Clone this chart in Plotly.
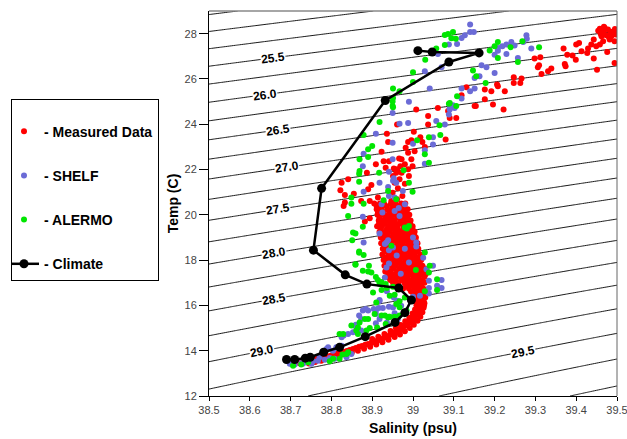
import numpy as np
import plotly.graph_objects as go

# ---------------- data ----------------
# Climate profile
climate_sal = [38.69, 38.71, 38.736, 38.748, 38.781, 38.82, 38.883, 38.956, 38.98, 38.996,
               38.965, 38.887, 38.834, 38.756, 38.776, 38.932, 39.088, 39.162, 39.047, 39.012]
climate_temp = [13.61, 13.61, 13.67, 13.71, 13.93, 14.15, 14.62, 15.25, 15.68, 16.24,
                16.77, 16.94, 17.35, 18.44, 21.17, 25.05, 26.75, 27.15, 27.19, 27.25]

# Measured data: scattered points (salinity, temperature)
measured_scatter = [
    (39.458, 28.22), (39.47, 28.25), (39.454, 28.13), (39.466, 28.10), (39.478, 28.18), (39.49, 28.10),
    (39.497, 27.96), (39.486, 27.88), (39.474, 27.93), (39.462, 27.88), (39.482, 27.74), (39.494, 27.66),
    (39.466, 27.66), (39.443, 27.74), (39.458, 27.52), (39.449, 27.44), (39.476, 27.19), (39.437, 27.52),
    (39.429, 27.34), (39.427, 27.15), (39.413, 27.22), (39.40, 27.52), (39.407, 27.59), (39.391, 27.04),
    (39.378, 27.07), (39.399, 26.85), (39.369, 27.34), (39.372, 26.66), (39.374, 26.56), (39.443, 26.90),
    (39.494, 26.70), (39.451, 26.41), (39.298, 26.90), (39.312, 26.96), (39.309, 26.60), (39.306, 26.52),
    (39.315, 26.22), (39.331, 26.34), (39.339, 26.46), (39.247, 26.07), (39.266, 26.02), (39.247, 25.82),
    (39.263, 25.82), (39.206, 25.75), (39.192, 25.46), (39.225, 25.46), (39.196, 24.87), (39.222, 24.65),
    (39.485, 28.05), (39.495, 28.20), (39.46, 28.00), (39.48, 27.85), (39.468, 28.30), (39.499, 28.02),
    (39.008, 24.65), (39.061, 24.72), (39.131, 25.63), (39.119, 25.28), (39.176, 25.53), (39.176, 25.10),
    (39.154, 24.80), (39.208, 25.68),
    (39.037, 24.36), (39.037, 23.99), (38.961, 23.99), (39.002, 23.67), (39.018, 23.43), (38.996, 23.29),
    (39.023, 23.22), (38.988, 23.22), (39.029, 22.99), (39.08, 23.33), (38.982, 22.96), (38.988, 22.74),
    (39.004, 22.81), (38.972, 22.45), (38.996, 22.45), (38.999, 22.15), (38.98, 22.23), (38.969, 22.15),
    (38.961, 22.01), (38.972, 21.86), (38.988, 22.01), (38.99, 21.71), (38.951, 21.71), (38.967, 21.57),
    (38.955, 21.42), (38.98, 21.37), (38.963, 21.17), (38.95, 20.98), (38.974, 20.83), (38.961, 20.69),
    (39.106, 24.28), (39.09, 24.28), (39.086, 24.58), (39.151, 24.80),
    (38.936, 23.58), (38.939, 23.22), (38.923, 22.78), (38.941, 22.37), (38.928, 22.37), (38.966, 22.49),
    (38.909, 22.23), (38.933, 22.08), (38.887, 21.86), (38.953, 22.05), (38.959, 21.86), (38.841, 21.57),
    (38.825, 21.42), (38.822, 21.08), (38.833, 20.88), (38.89, 21.13), (38.898, 21.32), (38.855, 20.93),
    (38.914, 20.76), (38.833, 20.54), (38.83, 20.39), (38.873, 20.61), (38.894, 20.61), (38.947, 20.61),
    (38.882, 19.70), (38.894, 19.85),
]

# Measured data: dense cloud, rows of (temperature, [salinities])
measured_cloud_rows = [
    (20.50, [38.905, 38.919, 38.929, 38.946, 38.957, 38.971, 38.981]),
    (20.375, [38.911, 38.925, 38.936, 38.951, 38.963, 38.976]),
    (20.25, [38.911, 38.921, 38.937, 38.949, 38.963, 38.974, 38.987]),
    (20.125, [38.914, 38.927, 38.944, 38.957, 38.969, 38.982]),
    (20.00, [38.913, 38.926, 38.939, 38.953, 38.965, 38.979, 38.991]),
    (19.875, [38.918, 38.933, 38.946, 38.961, 38.974, 38.987]),
    (19.75, [38.916, 38.927, 38.941, 38.954, 38.969, 38.981, 38.994]),
    (19.625, [38.917, 38.931, 38.944, 38.957, 38.969, 38.982, 38.993]),
    (19.50, [38.912, 38.924, 38.939, 38.951, 38.962, 38.977, 38.987, 38.999]),
    (19.375, [38.921, 38.936, 38.949, 38.963, 38.977, 38.989, 38.999]),
    (19.25, [38.918, 38.931, 38.943, 38.958, 38.969, 38.984, 38.994, 39.004]),
    (19.125, [38.925, 38.938, 38.952, 38.965, 38.978, 38.991, 39.003]),
    (19.00, [38.921, 38.932, 38.947, 38.959, 38.973, 38.984, 38.998, 39.007]),
    (18.875, [38.928, 38.941, 38.954, 38.968, 38.981, 38.993, 39.006]),
    (18.75, [38.922, 38.936, 38.947, 38.963, 38.974, 38.989, 38.999, 39.011]),
    (18.625, [38.930, 38.944, 38.957, 38.970, 38.983, 38.996, 39.008]),
    (18.50, [38.926, 38.937, 38.951, 38.962, 38.977, 38.989, 39.003, 39.013]),
    (18.375, [38.931, 38.945, 38.959, 38.972, 38.986, 38.998, 39.011]),
    (18.25, [38.925, 38.941, 38.952, 38.967, 38.979, 38.993, 39.004, 39.018]),
    (18.125, [38.934, 38.948, 38.961, 38.974, 38.987, 39.000, 39.013]),
    (18.00, [38.928, 38.941, 38.956, 38.967, 38.981, 38.993, 39.008, 39.020]),
    (17.875, [38.936, 38.950, 38.963, 38.976, 38.989, 39.002, 39.016]),
    (17.75, [38.930, 38.945, 38.956, 38.971, 38.982, 38.997, 39.009, 39.023]),
    (17.625, [38.938, 38.952, 38.966, 38.979, 38.992, 39.005, 39.018, 39.029]),
    (17.50, [38.932, 38.945, 38.961, 38.972, 38.986, 38.998, 39.012, 39.025, 39.034]),
    (17.375, [38.940, 38.954, 38.968, 38.981, 38.994, 39.007, 39.020, 39.031]),
    (17.25, [38.936, 38.948, 38.961, 38.976, 38.987, 39.001, 39.013, 39.028]),
    (17.125, [38.944, 38.957, 38.971, 38.984, 38.997, 39.010, 39.022]),
    (17.00, [38.951, 38.964, 38.979, 38.990, 39.004, 39.016, 39.028]),
    (16.875, [38.963, 38.983, 38.997, 39.009, 39.020]),
    (16.75, [38.976, 38.990, 39.004, 39.015, 39.025]),
    (16.625, [38.995, 39.007, 39.018, 39.027]),
    (16.50, [39.001, 39.012, 39.023]),
    (16.375, [39.004, 39.014, 39.024]),
    (16.25, [39.006, 39.016, 39.026]),
    (16.125, [39.008, 39.017, 39.026]),
    (16.00, [39.009, 39.019, 39.027]),
]

# Measured data: bottom band (salinity, temperature)
measured_band = [
    (38.722, 13.45), (38.740, 13.52), (38.755, 13.60), (38.770, 13.66), (38.785, 13.72), (38.800, 13.79),
    (38.815, 13.87), (38.830, 13.95), (38.845, 14.03), (38.860, 14.12), (38.875, 14.21), (38.890, 14.30),
    (38.905, 14.40), (38.920, 14.50), (38.935, 14.62), (38.950, 14.75), (38.963, 14.88), (38.975, 15.02),
    (38.987, 15.17), (38.997, 15.33), (39.005, 15.50), (39.011, 15.68), (39.015, 15.86), (39.018, 16.05),
    (39.020, 16.25),
    (38.731, 13.47), (38.748, 13.56), (38.763, 13.63), (38.778, 13.69), (38.793, 13.76), (38.808, 13.83),
    (38.823, 13.91), (38.838, 13.99), (38.853, 14.08), (38.868, 14.17), (38.883, 14.26), (38.898, 14.35),
    (38.913, 14.45), (38.928, 14.56), (38.943, 14.69), (38.957, 14.82), (38.969, 14.95), (38.981, 15.10),
    (38.992, 15.25), (39.001, 15.42), (39.008, 15.59), (39.013, 15.77), (39.017, 15.96),
    (38.745, 13.44), (38.760, 13.50), (38.775, 13.56), (38.790, 13.62), (38.805, 13.69), (38.820, 13.76),
    (38.835, 13.84), (38.850, 13.92), (38.865, 14.00), (38.880, 14.09), (38.895, 14.18), (38.910, 14.27),
    (38.925, 14.37), (38.940, 14.48), (38.955, 14.60), (38.968, 14.72), (38.980, 14.86), (38.992, 15.00),
    (39.002, 15.15), (39.011, 15.32), (39.018, 15.50), (39.023, 15.70), (39.026, 15.90), (39.028, 16.10),
    (39.030, 16.35), (39.030, 16.60),
    (38.900, 14.52), (38.915, 14.62), (38.930, 14.74), (38.945, 14.87), (38.958, 15.00), (38.970, 15.14),
    (38.981, 15.30), (38.991, 15.46), (38.999, 15.64), (39.005, 15.82), (39.009, 16.00), (39.012, 16.20),
]

# SHELF model
shelf_points = [
    (39.14, 28.40), (39.14, 28.07), (39.149, 28.07), (39.127, 27.93), (39.119, 27.81), (39.108, 27.54),
    (39.088, 27.52), (39.061, 27.10), (39.07, 26.52), (39.029, 26.34), (39.041, 25.58), (38.99, 24.99),
    (39.168, 26.60), (39.18, 26.52), (39.20, 26.26), (39.151, 26.04), (39.163, 26.12), (39.208, 27.37),
    (39.20, 27.07), (39.119, 25.58), (39.14, 25.46), (39.151, 25.58), (39.119, 25.14), (39.09, 24.70),
    (39.102, 24.72),
    (39.278, 27.93), (39.279, 27.78), (39.27, 27.63), (39.241, 27.63), (39.229, 27.52), (39.219, 27.44),
    (39.208, 27.25), (39.229, 27.10), (39.249, 27.48), (39.29, 27.34), (39.257, 26.93),
    (38.95, 24.50), (38.909, 23.58), (38.879, 22.70), (38.877, 22.15), (38.918, 21.42), (38.879, 21.02),
    (38.941, 21.90), (38.95, 22.45), (38.953, 21.61), (38.959, 21.42), (38.939, 21.23), (38.941, 20.83),
    (38.923, 20.47),
    (38.967, 24.02), (39.057, 24.14), (39.078, 23.99), (39.088, 24.43), (39.09, 24.65), (39.098, 24.84),
    (39.049, 23.43), (39.049, 23.11), (39.0, 23.14), (38.95, 23.18), (39.029, 22.85), (39.029, 22.26),
    (38.951, 21.50), (38.975, 21.05), (38.955, 20.76), (38.98, 20.47), (38.988, 24.06),
    (38.877, 19.91), (38.879, 18.78), (38.918, 19.17), (38.939, 18.88), (38.931, 18.71), (38.941, 18.44),
    (38.941, 17.85), (38.931, 17.23), (38.918, 16.24), (38.916, 15.89), (38.941, 15.94), (38.936, 16.62),
    (38.953, 16.35),
    (39.008, 18.78), (39.008, 18.60), (39.025, 18.11), (39.049, 17.75), (39.033, 17.60), (39.039, 17.09),
    (39.039, 16.77), (39.039, 16.53), (39.07, 17.12), (39.07, 16.77), (39.059, 16.87), (39.017, 16.43),
    (39.0, 16.38),
    (38.935, 18.78), (38.935, 17.67), (38.951, 18.56), (38.967, 19.95), (38.955, 20.17), (38.96, 18.20),
    (38.98, 18.50), (38.99, 17.90), (38.97, 17.40), (39.0, 19.00), (38.925, 20.10), (38.965, 20.30),
    (38.698, 13.42), (38.71, 13.39), (38.726, 13.45), (38.739, 13.49), (38.755, 13.53), (38.767, 13.56),
    (38.771, 13.71), (38.784, 13.60), (38.796, 13.68), (38.808, 13.64), (38.792, 14.15), (38.804, 14.0),
    (38.812, 14.15), (38.825, 14.22), (38.83, 14.67), (38.841, 14.74), (38.853, 14.81), (38.86, 15.15),
    (38.873, 14.89), (38.849, 13.86), (38.909, 15.62), (38.909, 15.21), (38.918, 15.40), (38.904, 15.84),
    (38.926, 15.89), (38.936, 15.25), (38.955, 15.65), (38.963, 15.40), (38.918, 16.20), (38.971, 15.99),
    (38.877, 15.77), (38.89, 15.77), (38.909, 15.77), (38.884, 15.84), (38.868, 15.55), (38.788, 14.08),
    (38.825, 14.59), (38.857, 15.10), (38.873, 15.40), (38.951, 15.91), (38.961, 16.21), (38.837, 13.71),
    (38.751, 13.42), (38.73, 13.42), (38.702, 13.42),
]

# ALERMO model
alermo_points = [
    (39.078, 27.94), (39.086, 27.98), (39.098, 28.07), (39.094, 27.80), (39.105, 27.78), (39.078, 27.50),
    (39.057, 27.34), (39.03, 26.85), (39.0, 26.30), (39.0, 25.87), (38.967, 25.46), (38.95, 25.0),
    (38.95, 24.80), (39.09, 24.94), (39.108, 25.24), (39.188, 27.26), (39.208, 27.63), (39.208, 26.93),
    (39.147, 26.37), (39.155, 26.12), (39.178, 25.82),
    (39.2, 27.44), (39.239, 27.40), (39.268, 27.66), (39.309, 27.40), (39.257, 26.75),
    (38.951, 25.58), (38.951, 25.16), (38.951, 24.75),
    (38.918, 24.10), (38.879, 23.52), (38.90, 23.04), (38.89, 22.89), (38.89, 22.55), (38.869, 22.45),
    (38.869, 21.93), (38.868, 21.81), (38.917, 21.86), (38.868, 21.46), (38.939, 21.05), (38.849, 20.76),
    (38.849, 20.49), (38.879, 20.49), (38.928, 20.64),
    (39.088, 24.90), (39.106, 24.80), (39.065, 23.96), (39.067, 23.52), (39.039, 23.43), (39.01, 23.29),
    (39.029, 22.67), (39.039, 22.30), (38.977, 21.97), (38.99, 21.42), (38.999, 21.02), (38.959, 20.69),
    (38.841, 19.95), (38.877, 19.47), (38.859, 19.17), (38.851, 18.88), (38.868, 18.38), (38.879, 18.23),
    (38.859, 17.82), (38.892, 17.75), (38.89, 17.50), (38.898, 17.45), (38.909, 17.26), (38.914, 17.12),
    (38.918, 16.94), (38.936, 16.77), (38.933, 16.94), (38.951, 16.82), (38.923, 16.68),
    (38.853, 19.22), (38.859, 17.79), (38.868, 18.33), (38.877, 17.53), (38.902, 16.57), (38.943, 16.43),
    (38.906, 15.62), (38.923, 15.55), (38.939, 15.47), (38.967, 15.92), (38.98, 16.35), (38.869, 15.25),
    (38.886, 14.89), (38.861, 14.89), (38.82, 14.74), (38.865, 15.03), (38.943, 15.50), (38.967, 15.55),
    (38.984, 15.77), (38.955, 16.47), (38.91, 16.13), (38.827, 13.83), (38.804, 13.64), (38.726, 13.39),
    (38.99, 19.51), (38.985, 19.40), (39.029, 18.34), (39.041, 17.75), (39.039, 17.45), (39.059, 17.16),
    (39.059, 16.68), (39.029, 16.62), (39.007, 17.56), (38.923, 17.02), (38.98, 19.44), (38.947, 18.63),
    (38.706, 13.34), (38.743, 13.49), (38.796, 13.53), (38.82, 13.64), (38.837, 13.86), (38.841, 13.93),
    (38.849, 15.11), (38.829, 14.74), (38.882, 15.40), (38.89, 15.40), (38.931, 15.55), (38.941, 15.50),
    (38.955, 15.50), (38.933, 15.18), (38.912, 15.03), (38.894, 15.0), (38.959, 16.06), (38.967, 16.18),
    (38.865, 14.74),
]

# Density contour labels (sigma-t) and the salinity at which each label sits
label_levels = [25.5, 26.0, 26.5, 27.0, 27.5, 28.0, 28.5, 29.0, 29.5]
label_sal = [38.657, 38.637, 38.67, 38.69, 38.67, 38.66, 38.66, 38.63, 39.27]

x_tickvals = [38.5, 38.6, 38.7, 38.8, 38.9, 39.0, 39.1, 39.2, 39.3, 39.4, 39.5]
x_ticktext = ["38.5", "38.6", "38.7", "38.8", "38.9", "39", "39.1", "39.2", "39.3", "39.4", "39.5"]
y_tickvals = [12, 14, 16, 18, 20, 22, 24, 26, 28]

S_RANGE = [38.5, 39.5]
T_RANGE = [12, 29]

# ---------------- helpers ----------------
def sigma_t(S, T):
    """UNESCO EOS-80 density anomaly at surface pressure."""
    rw = (999.842594 + 6.793952e-2 * T - 9.095290e-3 * T**2 + 1.001685e-4 * T**3
          - 1.120083e-6 * T**4 + 6.536332e-9 * T**5)
    A = 8.24493e-1 - 4.0899e-3 * T + 7.6438e-5 * T**2 - 8.2467e-7 * T**3 + 5.3875e-9 * T**4
    B = -5.72466e-3 + 1.0227e-4 * T - 1.6546e-6 * T**2
    C = 4.8314e-4
    return rw + A * S + B * S**1.5 + C * S**2 - 1000.0


def temp_on_isopycnal(S, sig):
    lo, hi = 0.0, 40.0
    for _ in range(60):
        mid = 0.5 * (lo + hi)
        if sigma_t(S, mid) > sig:
            lo = mid
        else:
            hi = mid
    return 0.5 * (lo + hi)


measured_sal = [p[0] for p in measured_scatter]
measured_temp = [p[1] for p in measured_scatter]
for t, row in measured_cloud_rows:
    for s in row:
        measured_sal.append(s)
        measured_temp.append(t)
measured_sal += [p[0] for p in measured_band]
measured_temp += [p[1] for p in measured_band]

shelf_sal = [p[0] for p in shelf_points]
shelf_temp = [p[1] for p in shelf_points]
alermo_sal = [p[0] for p in alermo_points]
alermo_temp = [p[1] for p in alermo_points]

# ---------------- figure ----------------
W, H = 627, 439
M = dict(l=209, r=10, t=11, b=43, autoexpand=False)
plot_w = W - M["l"] - M["r"]
plot_h = H - M["t"] - M["b"]

FONT = "Liberation Sans, Arial, Helvetica, sans-serif"

gs = np.linspace(S_RANGE[0], S_RANGE[1], 201)
gt = np.linspace(T_RANGE[0], T_RANGE[1], 341)
SS, TT = np.meshgrid(gs, gt)
Z = sigma_t(SS, TT)

fig = go.Figure()
fig.add_trace(go.Contour(
    x=gs, y=gt, z=Z,
    contours=dict(coloring="lines", start=24.0, end=31.0, size=0.25, showlabels=False),
    colorscale=[[0, "black"], [1, "black"]],
    line=dict(width=0.9),
    showscale=False, hoverinfo="skip", showlegend=False,
))

marker_size = 6
fig.add_trace(go.Scatter(
    x=measured_sal, y=measured_temp, mode="markers", name="<b>- Measured Data</b>",
    marker=dict(color="#ff0000", size=marker_size), legendgroup="a",
))
fig.add_trace(go.Scatter(
    x=shelf_sal, y=shelf_temp, mode="markers", name="<b>- SHELF</b>",
    marker=dict(color="#6b6bd6", size=marker_size), legendgroup="b",
))
fig.add_trace(go.Scatter(
    x=alermo_sal, y=alermo_temp, mode="markers", name="<b>- ALERMO</b>",
    marker=dict(color="#00e600", size=marker_size), legendgroup="c",
))
fig.add_trace(go.Scatter(
    x=climate_sal, y=climate_temp, mode="lines+markers", name="<b>- Climate</b>",
    line=dict(color="black", width=2.5), marker=dict(color="black", size=9),
    legendgroup="d",
))

# contour labels
sx = plot_w / (S_RANGE[1] - S_RANGE[0])
ty = plot_h / (T_RANGE[1] - T_RANGE[0])
annotations = []
for lev, s in zip(label_levels, label_sal):
    t = temp_on_isopycnal(s, lev)
    ds = 1e-4
    dsdS = (sigma_t(s + ds, t) - sigma_t(s - ds, t)) / (2 * ds)
    dsdT = (sigma_t(s, t + 1e-3) - sigma_t(s, t - 1e-3)) / 2e-3
    dTdS = -dsdS / dsdT
    ang = -np.degrees(np.arctan(dTdS * ty / sx))
    annotations.append(dict(
        x=s, y=t, xref="x", yref="y", text="<b>%.1f</b>" % lev, showarrow=False,
        font=dict(family=FONT, size=12, color="black"), bgcolor="white",
        borderpad=0, textangle=ang,
    ))

fig.update_layout(
    width=W, height=H, autosize=False, margin=M,
    paper_bgcolor="white", plot_bgcolor="white",
    font=dict(family=FONT, color="black"),
    annotations=annotations,
    xaxis=dict(
        range=S_RANGE, tickvals=x_tickvals, ticktext=x_ticktext, automargin=False,
        ticklabeloverflow="allow",
        ticks="outside", ticklen=4, tickcolor="black", tickwidth=1,
        showline=True, linecolor="black", linewidth=1, showgrid=False, zeroline=False,
        tickfont=dict(family=FONT, size=11, color="#444"),
        title=dict(text="<b>Salinity (psu)</b>", font=dict(family=FONT, size=14, color="black"),
                   standoff=7),
    ),
    yaxis=dict(
        range=T_RANGE, tickvals=y_tickvals, automargin=False,
        ticklabeloverflow="allow",
        ticks="outside", ticklen=9, tickcolor="black", tickwidth=1,
        showline=True, linecolor="black", linewidth=1, showgrid=False, zeroline=False,
        tickfont=dict(family=FONT, size=11, color="#444"),
        title=dict(text="<b>Temp (C)</b>", font=dict(family=FONT, size=14, color="black"),
                   standoff=2),
    ),
    shapes=[
        dict(type="line", xref="paper", yref="paper", x0=0, x1=1, y0=1, y1=1,
             line=dict(color="#888", width=1.5)),
        dict(type="line", xref="paper", yref="paper", x0=1, x1=1, y0=0, y1=1,
             line=dict(color="#666", width=1)),
    ],
    legend=dict(
        x=(11 - M["l"]) / plot_w, y=1 - (99 - M["t"]) / plot_h,
        xanchor="left", yanchor="top",
        bordercolor="black", borderwidth=1, bgcolor="white",
        font=dict(family=FONT, size=14, color="black"),
        title=dict(text=" ", font=dict(size=12)),
        tracegroupgap=23, itemwidth=30, indentation=-8,
    ),
    showlegend=True,
)

fig.write_html("out.html", config={"displayModeBar": False},
               post_script="document.body.style.margin='0';")
